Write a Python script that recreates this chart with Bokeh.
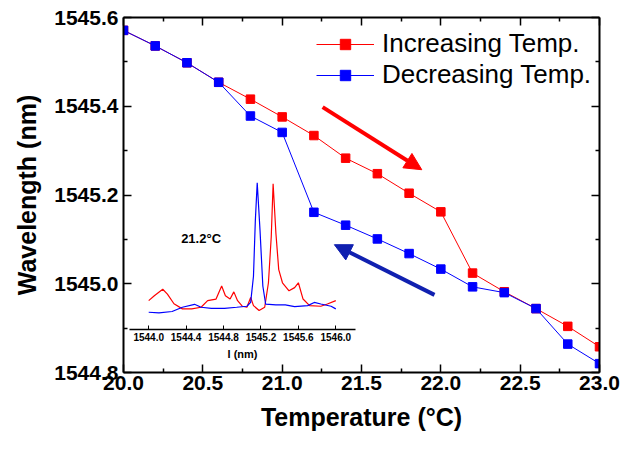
from bokeh.plotting import figure
from bokeh.models import (Range1d, LinearAxis, FixedTicker, NumeralTickFormatter,
                          Legend, LegendItem, Arrow, NormalHead)
from bokeh.core.properties import value
from bokeh.embed import file_html
from bokeh.resources import INLINE

# ---------------- data ----------------
temps = [20.0, 20.2, 20.4, 20.6, 20.8, 21.0, 21.2, 21.4, 21.6, 21.8,
         22.0, 22.2, 22.4, 22.6, 22.8, 23.0]
inc_wl = [1545.571, 1545.536, 1545.498, 1545.454, 1545.416, 1545.376, 1545.334, 1545.283,
          1545.248, 1545.204, 1545.162, 1545.024, 1544.982, 1544.944, 1544.904, 1544.858]
dec_wl = [1545.571, 1545.536, 1545.498, 1545.454, 1545.378, 1545.341, 1545.161, 1545.132,
          1545.101, 1545.068, 1545.033, 1544.993, 1544.980, 1544.944, 1544.864, 1544.820]

x_major = [20.0, 20.5, 21.0, 21.5, 22.0, 22.5, 23.0]
x_minor = [20.25, 20.75, 21.25, 21.75, 22.25, 22.75]
y_major = [1544.8, 1545.0, 1545.2, 1545.4, 1545.6]
y_minor = [1544.9, 1545.1, 1545.3, 1545.5]

# inset spectrum (21.2 C), intensity in arbitrary units
red_lam = [1544.00, 1544.06, 1544.15, 1544.20, 1544.27, 1544.36, 1544.46, 1544.56, 1544.63,
           1544.72, 1544.78, 1544.82, 1544.87, 1544.91, 1544.95, 1545.00, 1545.05, 1545.09,
           1545.12, 1545.18, 1545.24, 1545.28, 1545.31, 1545.33, 1545.36, 1545.39, 1545.43,
           1545.50, 1545.56, 1545.60, 1545.65, 1545.72, 1545.84, 1545.91, 1546.00]
red_int = [0.195, 0.228, 0.273, 0.240, 0.174, 0.139, 0.139, 0.150, 0.195,
           0.206, 0.295, 0.228, 0.206, 0.255, 0.195, 0.157, 0.150, 0.217,
           0.161, 0.128, 0.150, 0.317, 0.631, 0.993, 0.653, 0.407, 0.317,
           0.262, 0.284, 0.317, 0.206, 0.161, 0.157, 0.172, 0.195]
blue_lam = [1544.00, 1544.11, 1544.25, 1544.36, 1544.49, 1544.56, 1544.67, 1544.81, 1544.94,
            1545.05, 1545.09, 1545.12, 1545.14, 1545.16, 1545.19, 1545.22, 1545.25, 1545.36,
            1545.46, 1545.56, 1545.70, 1545.77, 1545.84, 1545.95, 1546.00]
blue_int = [0.116, 0.112, 0.121, 0.150, 0.170, 0.150, 0.143, 0.143, 0.150,
            0.157, 0.183, 0.362, 0.743, 1.000, 0.676, 0.295, 0.172, 0.166,
            0.166, 0.154, 0.161, 0.183, 0.172, 0.157, 0.139]
inset_ticks = [1544.0, 1544.4, 1544.8, 1545.2, 1545.6, 1546.0]
inset_label = "21.2°C"
inset_label_pos = (1544.56, 0.62)

red_arrow = (21.255, 1545.398, 21.880, 1545.257)
blue_arrow = (21.960, 1544.975, 21.329, 1545.088)

FONT = "Liberation Sans"
RED = "#ff0000"
BLUE = "#0000ff"
NAVY = "#1020b0"

# ---------------- figure ----------------
p = figure(width=620, height=439, x_range=Range1d(20.0, 23.0), y_range=Range1d(1544.8, 1545.6),
           output_backend="svg", toolbar_location=None,
           min_border_left=123, min_border_right=21, min_border_top=17, min_border_bottom=67)
p.outline_line_color = None
p.xgrid.visible = False
p.ygrid.visible = False
p.background_fill_color = "white"

p.extra_x_ranges = {"ix": Range1d(1543.7306, 1548.819)}
p.extra_y_ranges = {"iy": Range1d(-0.2953, 2.1275)}


def style_axis(ax, labels=True):
    ax.axis_line_width = 2
    ax.axis_line_color = "black"
    ax.major_tick_in = 8
    ax.major_tick_out = 0
    ax.minor_tick_in = 4
    ax.minor_tick_out = 0
    ax.major_tick_line_width = 1.5
    ax.minor_tick_line_width = 1.5
    ax.major_tick_line_color = "black"
    ax.minor_tick_line_color = "black"
    ax.major_label_text_font = FONT
    ax.major_label_text_font_style = "bold"
    if labels:
        ax.major_label_text_font_size = "21px"
        ax.major_label_text_color = "black"
    else:
        ax.major_label_text_font_size = "0px"
        ax.major_label_text_color = None
        ax.major_label_standoff = 0
    ax.axis_label_text_font = FONT
    ax.axis_label_text_font_style = "bold"
    ax.axis_label_text_font_size = "25px"
    ax.axis_label_text_color = "black"


xa = p.xaxis[0]
xa.ticker = FixedTicker(ticks=x_major, minor_ticks=x_minor)
xa.formatter = NumeralTickFormatter(format="0.0")
xa.axis_label = "Temperature (°C)"
style_axis(xa)
xa.major_label_standoff = 3
xa.axis_label_standoff = 10

ya = p.yaxis[0]
ya.ticker = FixedTicker(ticks=y_major, minor_ticks=y_minor)
ya.formatter = NumeralTickFormatter(format="0.0")
ya.axis_label = "Wavelength (nm)"
style_axis(ya)
ya.major_label_standoff = 5
ya.axis_label_standoff = 10

top = LinearAxis(ticker=FixedTicker(ticks=x_major, minor_ticks=x_minor))
style_axis(top, labels=False)
p.add_layout(top, "above")

right = LinearAxis(ticker=FixedTicker(ticks=y_major, minor_ticks=y_minor))
style_axis(right, labels=False)
p.add_layout(right, "right")

# ---------------- inset ----------------
p.line(red_lam, red_int, x_range_name="ix", y_range_name="iy", line_color=RED, line_width=1.2)
p.line(blue_lam, blue_int, x_range_name="ix", y_range_name="iy", line_color=BLUE, line_width=1.2)

iax = LinearAxis(x_range_name="ix", y_range_name="iy", fixed_location=0,
                 bounds=(1543.80, 1546.21),
                 ticker=FixedTicker(ticks=inset_ticks, minor_ticks=[]),
                 formatter=NumeralTickFormatter(format="0.0"),
                 axis_label="l (nm)")
iax.axis_line_width = 1.5
iax.major_tick_in = 4
iax.major_tick_out = 0
iax.major_tick_line_width = 1
iax.minor_tick_in = 0
iax.minor_tick_out = 0
iax.major_label_standoff = 4
iax.major_label_text_font = FONT
iax.major_label_text_font_style = "bold"
iax.major_label_text_font_size = "10px"
iax.major_label_text_color = "black"
iax.axis_label_text_font = FONT
iax.axis_label_text_font_style = "bold"
iax.axis_label_text_font_size = "11px"
iax.axis_label_text_color = "black"
iax.axis_label_standoff = 3
p.add_layout(iax, "below")

p.text(x=[inset_label_pos[0]], y=[inset_label_pos[1]], text=[inset_label],
       x_range_name="ix", y_range_name="iy",
       text_font=value(FONT), text_font_size="13px", text_font_style="bold",
       text_align="center", text_baseline="middle", text_color="black")

# ---------------- main series ----------------
r_line = p.line(temps, inc_wl, line_color=RED, line_width=1)
r_sq = p.scatter(temps, inc_wl, marker="square", size=8.5, fill_color=RED, line_color=RED)
b_line = p.line(temps, dec_wl, line_color=BLUE, line_width=1)
b_sq = p.scatter(temps, dec_wl, marker="square", size=8.5, fill_color=BLUE, line_color=BLUE)

# ---------------- arrows ----------------
p.add_layout(Arrow(end=NormalHead(size=17, fill_color=RED, line_color=RED),
                   x_start=red_arrow[0], y_start=red_arrow[1],
                   x_end=red_arrow[2], y_end=red_arrow[3],
                   line_color=RED, line_width=4))
p.add_layout(Arrow(end=NormalHead(size=17, fill_color=NAVY, line_color=NAVY),
                   x_start=blue_arrow[0], y_start=blue_arrow[1],
                   x_end=blue_arrow[2], y_end=blue_arrow[3],
                   line_color=NAVY, line_width=4))

# ---------------- legend ----------------
legend = Legend(items=[LegendItem(label="Increasing Temp.", renderers=[r_line, r_sq]),
                       LegendItem(label="Decreasing Temp.", renderers=[b_line, b_sq])],
                location=(193, 282), padding=0, margin=0, spacing=0,
                glyph_width=58, glyph_height=26, label_height=26, label_standoff=8,
                label_text_font=FONT, label_text_font_size="26px",
                label_text_color="black", label_text_line_height=1.0,
                border_line_color=None, background_fill_alpha=0)
p.add_layout(legend)

open("out.html", "w").write(file_html(p, INLINE))
